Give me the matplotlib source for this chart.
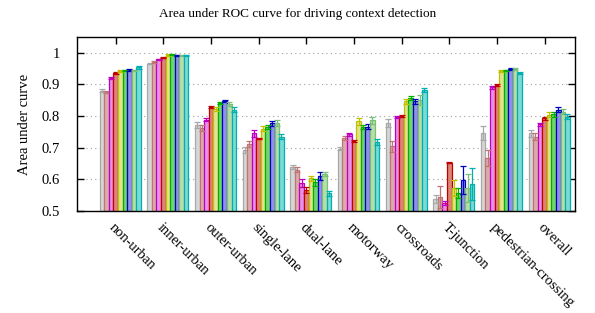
import numpy as np
import matplotlib
matplotlib.use("Agg")
import matplotlib.pyplot as plt

plt.rcParams['font.family'] = ['Liberation Serif', 'DejaVu Serif']

categories = ['non-urban', 'inner-urban', 'outer-urban', 'single-lane', 'dual-lane',
              'motorway', 'crossroads', 'T-junction', 'pedestrian-crossing', 'overall']

# one row per series (9 series), one column per category
auc = [
    [0.880, 0.966, 0.772, 0.693, 0.640, 0.697, 0.778, 0.537, 0.746, 0.745],
    [0.876, 0.970, 0.763, 0.712, 0.630, 0.730, 0.704, 0.545, 0.667, 0.735],
    [0.921, 0.979, 0.789, 0.745, 0.588, 0.742, 0.797, 0.524, 0.891, 0.774],
    [0.936, 0.985, 0.828, 0.729, 0.566, 0.722, 0.800, 0.653, 0.898, 0.793],
    [0.943, 0.993, 0.822, 0.760, 0.603, 0.783, 0.846, 0.572, 0.941, 0.804],
    [0.944, 0.994, 0.841, 0.766, 0.590, 0.765, 0.857, 0.556, 0.944, 0.805],
    [0.946, 0.992, 0.848, 0.777, 0.610, 0.766, 0.846, 0.598, 0.948, 0.820],
    [0.944, 0.992, 0.838, 0.778, 0.617, 0.786, 0.851, 0.572, 0.948, 0.814],
    [0.954, 0.992, 0.820, 0.735, 0.556, 0.719, 0.883, 0.585, 0.936, 0.798],
]
err = [
    [0.004, 0.003, 0.010, 0.010, 0.006, 0.005, 0.012, 0.012, 0.022, 0.010],
    [0.003, 0.003, 0.010, 0.010, 0.008, 0.007, 0.018, 0.035, 0.025, 0.010],
    [0.003, 0.002, 0.006, 0.010, 0.012, 0.004, 0.004, 0.006, 0.004, 0.005],
    [0.002, 0.002, 0.003, 0.003, 0.010, 0.003, 0.003, 0.003, 0.003, 0.004],
    [0.004, 0.002, 0.006, 0.008, 0.007, 0.010, 0.008, 0.025, 0.003, 0.008],
    [0.003, 0.002, 0.004, 0.006, 0.010, 0.006, 0.006, 0.015, 0.003, 0.007],
    [0.003, 0.002, 0.004, 0.008, 0.012, 0.008, 0.008, 0.045, 0.003, 0.007],
    [0.003, 0.002, 0.005, 0.008, 0.007, 0.010, 0.015, 0.045, 0.003, 0.007],
    [0.004, 0.002, 0.008, 0.008, 0.008, 0.010, 0.006, 0.050, 0.004, 0.008],
]

fills = ['#d6d6d6', '#dcaaaa', '#e690e6', '#dc8474', '#e2e290',
         '#70d470', '#9090e6', '#b8dea8', '#7cdad4']
edges = ['#a8a8a8', '#c07474', '#c000c0', '#c00000', '#c0c000',
         '#00b000', '#0000c0', '#78c078', '#00b0b0']

fig = plt.figure(figsize=(5.95, 3.13), dpi=100)
ax = fig.add_axes([0.129, 0.326, 0.837, 0.556])

x = np.arange(len(categories))
w = 0.096
for j in range(len(auc)):
    xs = x - 0.292 + j * w
    ax.bar(xs, auc[j], width=w, bottom=0, color=fills[j], edgecolor=edges[j],
           linewidth=0.9, zorder=2)
    ax.errorbar(xs, auc[j], yerr=err[j], fmt='none', ecolor=edges[j],
                elinewidth=0.9, capsize=2.2, capthick=0.9, zorder=3)

ax.set_xlim(-0.82, 9.63)
ax.set_ylim(0.5, 1.05)
ax.set_yticks([0.5, 0.6, 0.7, 0.8, 0.9, 1.0])
ax.set_yticklabels(['0.5', '0.6', '0.7', '0.8', '0.9', '1'], fontsize=10.5)
ax.set_xticks(x)
ax.set_xticklabels(categories, rotation=-45, ha='left', va='top',
                   rotation_mode='anchor', fontsize=10.5)
ax.tick_params(axis='both', direction='in', top=True, right=True, length=5, width=1)
ax.tick_params(axis='x', pad=7)
ax.tick_params(axis='y', pad=12)
ax.yaxis.grid(True, linestyle=(0, (1, 3)), color='#a0a0a0', linewidth=0.8, zorder=0)
ax.set_axisbelow(True)
for s in ax.spines.values():
    s.set_linewidth(1.0)

ax.set_ylabel('Area under curve', fontsize=10.5, labelpad=8)
fig.suptitle('Area under ROC curve for driving context detection', fontsize=9.5, y=0.975)

fig.savefig('out.png', dpi=100)
